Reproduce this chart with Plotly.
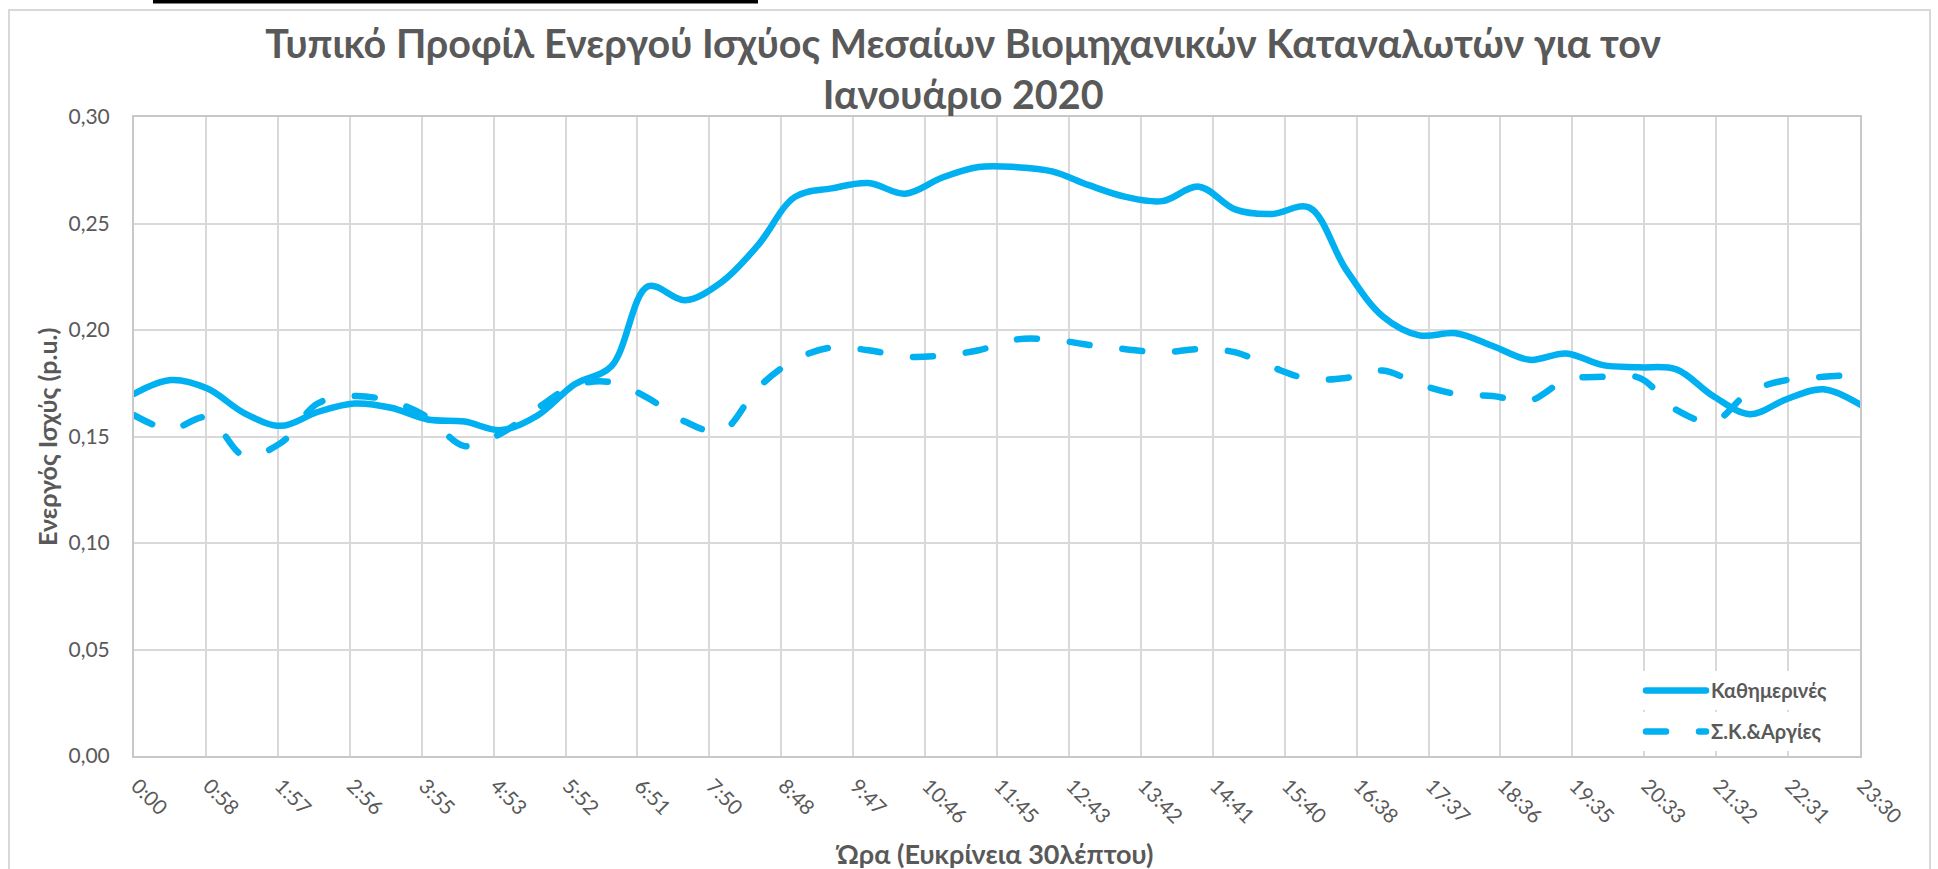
import plotly.graph_objects as go

# ---------------- data ----------------
times = ["0:00", "0:30", "1:00", "1:30", "2:00", "2:30", "3:00", "3:30",
         "4:00", "4:30", "5:00", "5:30", "6:00", "6:30", "7:00", "7:30",
         "8:00", "8:30", "9:00", "9:30", "10:00", "10:30", "11:00", "11:30",
         "12:00", "12:30", "13:00", "13:30", "14:00", "14:30", "15:00", "15:30",
         "16:00", "16:30", "17:00", "17:30", "18:00", "18:30", "19:00", "19:30",
         "20:00", "20:30", "21:00", "21:30", "22:00", "22:30", "23:00", "23:30"]

weekdays = [0.170, 0.1765, 0.1725, 0.161, 0.155, 0.1615, 0.1655, 0.1635,
            0.158, 0.157, 0.153, 0.160, 0.1745, 0.183, 0.2205, 0.214,
            0.2225, 0.240, 0.2625, 0.2665, 0.269, 0.264, 0.2715, 0.2765,
            0.2765, 0.2745, 0.268, 0.2625, 0.2605, 0.2673, 0.2565, 0.2545,
            0.2575, 0.2285, 0.2065, 0.1975, 0.1985, 0.1925, 0.186, 0.189,
            0.1835, 0.1825, 0.1815, 0.169, 0.1605, 0.1675, 0.1722, 0.165]

weekends = [0.160, 0.1535, 0.159, 0.141, 0.147, 0.1655, 0.169, 0.1665,
            0.159, 0.1455, 0.1515, 0.1635, 0.174, 0.1755, 0.168, 0.157,
            0.1525, 0.173, 0.186, 0.1918, 0.1905, 0.1875, 0.188, 0.1905,
            0.1955, 0.1955, 0.193, 0.191, 0.1895, 0.191, 0.1895, 0.1825,
            0.177, 0.1775, 0.181, 0.1745, 0.170, 0.169, 0.1668, 0.1765,
            0.178, 0.1775, 0.1625, 0.157, 0.171, 0.1765, 0.178, 0.179]

tick_labels = ["0:00", "0:58", "1:57", "2:56", "3:55", "4:53", "5:52", "6:51",
               "7:50", "8:48", "9:47", "10:46", "11:45", "12:43", "13:42",
               "14:41", "15:40", "16:38", "17:37", "18:36", "19:35", "20:33",
               "21:32", "22:31", "23:30"]

series_names = ["Καθημερινές", "Σ.Κ.&Αργίες"]
title_text = "Τυπικό Προφίλ Ενεργού Ισχύος Μεσαίων Βιομηχανικών Καταναλωτών για τον<br>Ιανουάριο 2020"
x_title = "Ώρα (Ευκρίνεια 30λέπτου)"
y_title = "Ενεργός Ισχύς (p.u.)"

# ---------------- helpers ----------------
def to_min(t):
    h, m = t.split(":")
    return int(h) * 60 + int(m)

x = [to_min(t) for t in times]
x_max = x[-1]
n_ticks = len(tick_labels)
tickvals = [k * x_max / (n_ticks - 1) for k in range(n_ticks)]

W, H = 1938, 869
L, R, T, B = 134, 1860, 117, 756   # plot area in pixels


def px(v):
    return (v - L) / (R - L)


def py(v):
    return (B - v) / (B - T)


BLUE = "#00B0F0"
GRAY_TXT = "#595959"
GRID = "#d9d9d9"
FONT = "Lato, 'Open Sans', 'Noto Sans', sans-serif"

fig = go.Figure()
fig.add_trace(go.Scatter(
    x=x, y=weekdays, mode="lines", name=series_names[0],
    line=dict(color=BLUE, width=6.5, shape="spline", smoothing=1.0),
    legend="legend"))
fig.add_trace(go.Scatter(
    x=x, y=weekends, mode="lines", name=series_names[1],
    line=dict(color=BLUE, width=6.5, shape="spline", smoothing=1.0, dash="20px,33px"),
    legend="legend2"))

legend_common = dict(
    bgcolor="white", borderwidth=0, xanchor="left", yanchor="top",
    font=dict(family=FONT, size=20, color=GRAY_TXT, weight="bold"),
    itemwidth=60,
)

fig.update_layout(
    width=W, height=H,
    margin=dict(l=L, r=W - R, t=T, b=H - B, pad=0),
    paper_bgcolor="white", plot_bgcolor="white",
    separators=", ",
    font=dict(family=FONT, color=GRAY_TXT),
    title=dict(text="<b>" + title_text + "</b>", xref="container", x=0.497,
               xanchor="center", yref="container", y=1 - 58 / H, yanchor="top",
               font=dict(family=FONT, size=39.5, color=GRAY_TXT)),
    xaxis=dict(range=[0, x_max], tickmode="array", tickvals=tickvals, ticktext=tick_labels,
               tickangle=45, showgrid=True, gridcolor=GRID, gridwidth=1.5,
               showline=True, linecolor="#c8c8c8", linewidth=2, mirror=True,
               ticks="", zeroline=False, ticklabelstandoff=8, ticklabelshift=3,
               tickfont=dict(family=FONT, size=20.5, color=GRAY_TXT)),
    yaxis=dict(range=[0, 0.30], tickmode="linear", tick0=0, dtick=0.05, tickformat=".2f",
               showgrid=True, gridcolor=GRID, gridwidth=1.5,
               showline=True, linecolor="#c8c8c8", linewidth=2, mirror=True,
               ticks="", zeroline=False, ticklabelstandoff=18,
               tickfont=dict(family=FONT, size=21, color=GRAY_TXT)),
    legend=dict(x=px(1641), y=py(671), **legend_common),
    legend2=dict(x=px(1641), y=py(712), **legend_common),
    showlegend=True,
    shapes=[
        dict(type="rect", xref="paper", yref="paper",
             x0=px(9), x1=px(1930), y0=py(885), y1=py(10),
             line=dict(color=GRID, width=2), fillcolor="rgba(0,0,0,0)", layer="above"),
        dict(type="rect", xref="paper", yref="paper",
             x0=px(153), x1=px(758), y0=py(3.5), y1=py(-5),
             line=dict(width=0), fillcolor="black", layer="above"),
    ],
    annotations=[
        dict(text="<b>" + y_title + "</b>", xref="paper", yref="paper",
             x=px(47), y=py(437), xanchor="center", yanchor="middle",
             textangle=-90, showarrow=False,
             font=dict(family=FONT, size=25, color=GRAY_TXT)),
        dict(text="<b>" + x_title + "</b>", xref="paper", yref="paper",
             x=px(994), y=py(853), xanchor="center", yanchor="middle",
             showarrow=False,
             font=dict(family=FONT, size=27, color=GRAY_TXT)),
    ],
)

post_js = """
document.documentElement.style.margin='0';
document.documentElement.style.padding='0';
document.body.style.margin='0';
document.body.style.padding='0';
document.body.style.overflow='hidden';
var gd = document.getElementById('{plot_id}');
function roundCaps(){
  gd.querySelectorAll('path.js-line').forEach(function(p){ p.style.strokeLinecap='round'; });
}
roundCaps();
if (gd.on) { gd.on('plotly_afterplot', roundCaps); }
"""

fig.write_html("out.html", post_script=post_js, config={"displayModeBar": False})
